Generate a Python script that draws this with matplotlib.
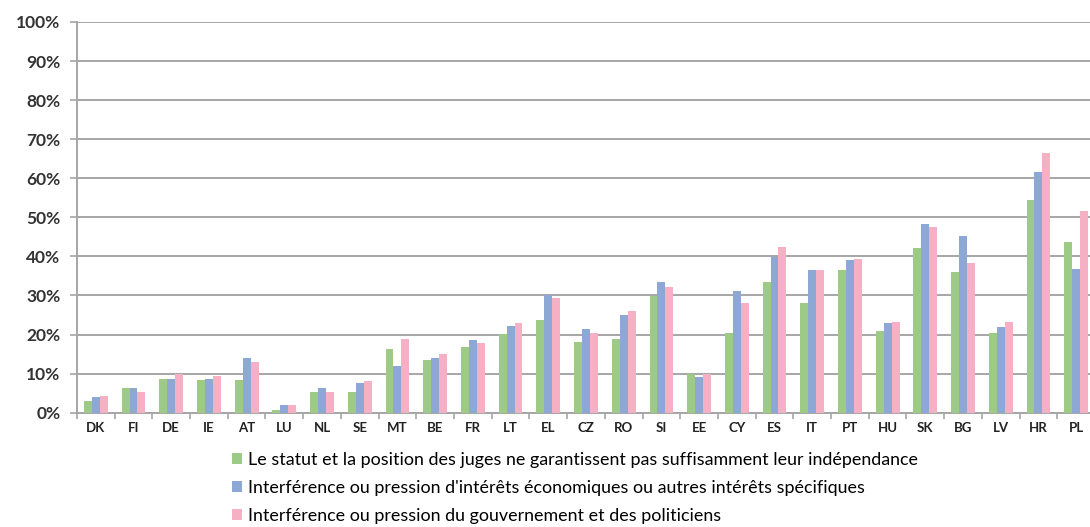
import numpy as np
import matplotlib
matplotlib.use("Agg")
import matplotlib.pyplot as plt
from matplotlib.ticker import FuncFormatter, MultipleLocator, FixedLocator

countries = ["DK", "FI", "DE", "IE", "AT", "LU", "NL", "SE", "MT", "BE", "FR", "LT", "EL", "CZ",
             "RO", "SI", "EE", "CY", "ES", "IT", "PT", "HU", "SK", "BG", "LV", "HR", "PL"]

# values in %
statut = [3.1, 6.3, 8.6, 8.3, 8.3, 0.6, 5.3, 5.3, 16.2, 13.6, 16.9, 20.2, 23.6, 18.0,
          18.9, 29.9, 10.0, 20.5, 33.4, 28.1, 36.4, 20.9, 42.2, 35.9, 20.3, 54.5, 43.8]
economiques = [4.1, 6.3, 8.6, 8.6, 13.9, 2.0, 6.3, 7.6, 11.9, 14.0, 18.6, 22.1, 30.0, 21.5,
               25.1, 33.4, 9.1, 31.2, 39.8, 36.4, 39.0, 23.0, 48.2, 45.2, 22.0, 61.5, 36.9]
gouvernement = [4.3, 5.3, 10.0, 9.5, 12.9, 2.0, 5.3, 8.2, 18.9, 14.9, 17.9, 22.9, 29.4, 20.5,
                26.1, 32.2, 10.0, 28.1, 42.4, 36.4, 39.4, 23.2, 47.6, 38.2, 23.1, 66.5, 51.7]

labels = ["Le statut et la position des juges ne garantissent pas suffisamment leur indépendance",
          "Interférence ou pression d'intérêts économiques ou autres intérêts spécifiques",
          "Interférence ou pression du gouvernement et des politiciens"]
colors = ["#9dca85", "#8ea8d6", "#f6b0c3"]

fig = plt.figure(figsize=(10.9, 5.27), dpi=100)
ax = fig.add_axes([0.0706, 0.2169, 0.934, 0.7414])

x = np.arange(len(countries))
w = 0.21
bars = []
for k, vals in enumerate([statut, economiques, gouvernement]):
    b = ax.bar(x + (k - 1) * w, np.array(vals) / 100, width=w, color=colors[k],
               label=labels[k], zorder=3)
    bars.append(b)

ax.set_xlim(-0.5, len(countries) - 0.5)
ax.set_ylim(0, 1.0)
ax.yaxis.set_major_locator(MultipleLocator(0.1))
ax.yaxis.set_major_formatter(FuncFormatter(lambda v, p: f"{int(round(v * 100))}%"))
ax.grid(axis="y", color="#a6a6a6", linewidth=1.4, zorder=0)

ax.set_xticks(x)
ax.set_xticklabels(countries)
ax.xaxis.set_minor_locator(FixedLocator(np.arange(-0.5, len(countries), 1)))
ax.tick_params(axis="x", which="major", length=0, pad=7)
ax.tick_params(axis="x", which="minor", length=4, color="#a6a6a6", width=1.2)
ax.tick_params(axis="y", length=5, color="#a6a6a6", width=1.2, pad=7)

for lab in ax.get_xticklabels():
    lab.set_fontfamily("Lato")
    lab.set_fontweight("bold")
    lab.set_fontsize(9.5)
    lab.set_color("#222222")
for lab in ax.get_yticklabels():
    lab.set_fontfamily("Lato")
    lab.set_fontweight("bold")
    lab.set_fontsize(12.5)
    lab.set_color("#333333")

for s in ["top", "right"]:
    ax.spines[s].set_visible(False)
ax.spines["left"].set_color("#a6a6a6")
ax.spines["left"].set_linewidth(1.4)
ax.spines["bottom"].set_color("#a6a6a6")
ax.spines["bottom"].set_linewidth(1.4)

fig.legend(handles=bars, labels=labels, loc="upper left", bbox_to_anchor=(0.213, 0.143),
           frameon=False, handlelength=0.55, handleheight=0.55, handletextpad=0.35,
           labelspacing=0.68, borderaxespad=0, borderpad=0,
           prop={"family": "Lato", "size": 12.9})

fig.savefig("out.png", dpi=100)
